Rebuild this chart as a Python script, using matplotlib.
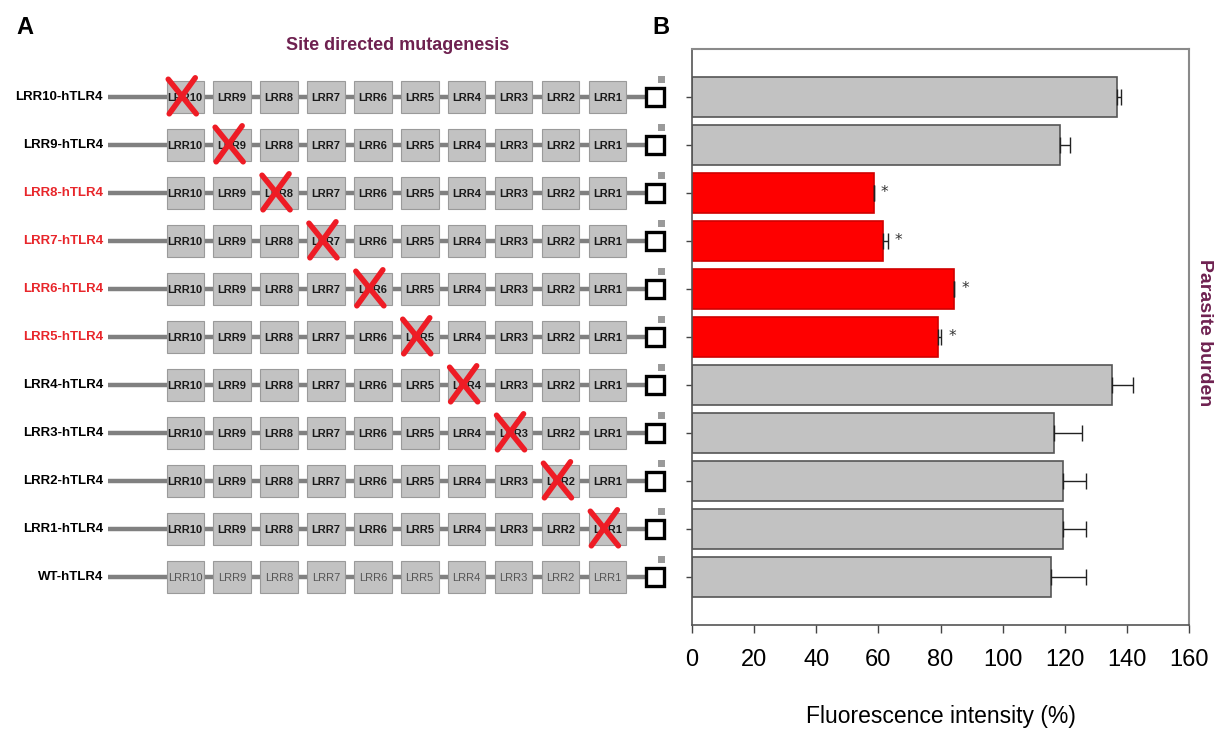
import matplotlib
matplotlib.use('Agg')
import matplotlib.pyplot as plt
from matplotlib.patches import Rectangle

# constructs, top to bottom
constructs = ['LRR10-hTLR4', 'LRR9-hTLR4', 'LRR8-hTLR4', 'LRR7-hTLR4', 'LRR6-hTLR4',
              'LRR5-hTLR4', 'LRR4-hTLR4', 'LRR3-hTLR4', 'LRR2-hTLR4', 'LRR1-hTLR4',
              'WT-hTLR4']
mutated_domain = ['LRR10', 'LRR9', 'LRR8', 'LRR7', 'LRR6', 'LRR5', 'LRR4', 'LRR3',
                  'LRR2', 'LRR1', None]
domains = ['LRR10', 'LRR9', 'LRR8', 'LRR7', 'LRR6', 'LRR5', 'LRR4', 'LRR3', 'LRR2', 'LRR1']

# fluorescence intensity (%) and error
intensity = [136.8, 118.5, 58.5, 61.5, 84.4, 79.1, 135.3, 116.7, 119.4, 119.4, 115.5]
error = [1.3, 3.3, 0.0, 1.5, 0.0, 1.2, 6.6, 9.0, 7.5, 7.5, 11.4]
significant = [False, False, True, True, True, True, False, False, False, False, False]

xticks = [0, 20, 40, 60, 80, 100, 120, 140, 160]

plt.rcParams['font.family'] = ['Liberation Sans', 'DejaVu Sans']

RED_TXT = '#e8262b'
RED_BAR = '#fe0000'
GREY_BAR = '#c2c2c2'
MAROON = '#6e2150'

W, H = 1221, 740
fig = plt.figure(figsize=(W / 100, H / 100), dpi=100)

# axes geometry in pixels
ax_left, ax_right, ax_top, ax_bottom = 692, 1189, 49, 625
pos = [ax_left / W, 1 - ax_bottom / H, (ax_right - ax_left) / W, (ax_bottom - ax_top) / H]

# ---------------- panel B: bar chart ----------------
ax = fig.add_axes(pos)
rows = list(range(len(constructs)))
colors = [RED_BAR if s else GREY_BAR for s in significant]
edges = ['#d00000' if s else '#555555' for s in significant]
ax.barh(rows, intensity, height=0.83, color=colors, edgecolor=edges, linewidth=1.2, zorder=2)
ax.errorbar(intensity, rows, xerr=[[0] * len(error), error], fmt='none',
            ecolor='#222222', elinewidth=1.0, capsize=6, capthick=1.0, zorder=3)
for r, v, e, s in zip(rows, intensity, error, significant):
    if s:
        ax.text(v + e + 3.5, r, '*', ha='center', va='center', fontsize=11,
                color='#333333', family='DejaVu Sans')

ax.set_xlim(0, 160)
ax.set_ylim(11, -1)
ax.set_xticks(xticks)
ax.set_xticklabels([str(t) for t in xticks])
ax.set_yticks(rows)
ax.set_yticklabels([])
ax.tick_params(axis='x', length=6, width=1, color='#444444', labelsize=17, pad=11)
ax.tick_params(axis='y', length=4, width=1, color='#444444')
for s in ['left', 'bottom']:
    ax.spines[s].set_color('#555555')
    ax.spines[s].set_linewidth(1.2)
for s in ['top', 'right']:
    ax.spines[s].set_color('#8a8a8a')
    ax.spines[s].set_linewidth(1.5)
ax.set_xlabel('Fluorescence intensity (%)', fontsize=16.5, labelpad=25)

fig.text(1205 / W, 1 - 333 / H, 'Parasite burden', rotation=-90, ha='center', va='center',
         fontsize=14, fontweight='bold', color=MAROON)

# ---------------- panel A: construct diagram ----------------
ad = fig.add_axes([0, pos[1], ax_left / W, pos[3]])
ad.set_xlim(0, ax_left)
ad.set_ylim(11, -1)
ad.axis('off')

box_x0, box_pitch, box_w, box_h = 166.5, 46.9, 37.5, 0.67
for r, (name, mut) in enumerate(zip(constructs, mutated_domain)):
    lab_col = RED_TXT if significant[r] else 'black'
    ad.text(103, r, name, ha='right', va='center', fontsize=9.5, fontweight='bold', color=lab_col)
    # backbone
    ad.plot([108, 648], [r, r], color='#808080', lw=3.2, solid_capstyle='butt', zorder=1)
    for k, d in enumerate(domains):
        x0 = box_x0 + k * box_pitch
        ad.add_patch(Rectangle((x0, r - box_h / 2), box_w, box_h, facecolor=GREY_BAR,
                               edgecolor='#9a9a9a', lw=0.8, zorder=2))
        wt = mut is None
        ad.text(x0 + box_w / 2, r + 0.02, d, ha='center', va='center', fontsize=8,
                fontweight='normal' if wt else 'bold',
                color='#555555' if wt else '#1a1a1a', zorder=3)
        if d == mut:
            cx = x0 + box_w / 2 - 3
            ad.plot([cx - 14, cx + 14], [r - 0.37, r + 0.35], color='#ee1c25', lw=4,
                    solid_capstyle='round', zorder=4)
            ad.plot([cx + 13, cx - 13], [r - 0.40, r + 0.35], color='#ee1c25', lw=4,
                    solid_capstyle='round', zorder=4)
    # terminal square and small marker
    ad.add_patch(Rectangle((645.5, r - 0.19), 18, 0.38, facecolor='white',
                           edgecolor='black', lw=2.4, zorder=3))
    ad.add_patch(Rectangle((657.5, r - 0.44), 7, 0.14, facecolor='#9a9a9a',
                           edgecolor='none', zorder=3))

fig.text(398 / W, 1 - 45 / H, 'Site directed mutagenesis', ha='center', va='center',
         fontsize=13, fontweight='bold', color=MAROON)
fig.text(25 / W, 1 - 27 / H, 'A', ha='center', va='center', fontsize=17, fontweight='bold')
fig.text(661 / W, 1 - 27 / H, 'B', ha='center', va='center', fontsize=17, fontweight='bold')

fig.savefig('out.png', dpi=100)
